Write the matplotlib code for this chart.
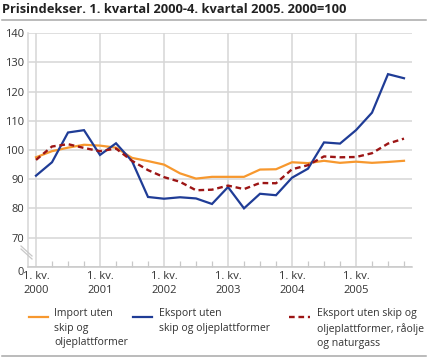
# -*- coding: utf-8 -*-
"""
Prisindekser, 1. kvartal 2000 - 4. kvartal 2005 (2000=100).
"""
import matplotlib
matplotlib.use('Agg')
import matplotlib.pyplot as plt
from matplotlib.lines import Line2D

plt.rcParams['font.family'] = ['Open Sans', 'DejaVu Sans']

AAR = ['2000', '2001', '2002', '2003', '2004', '2005']
KVARTAL = list(range(24))  # 1. kv. 2000 .. 4. kv. 2005

IMPORT = [97.5, 99.6, 100.8, 101.8, 101.5, 100.8, 97.3, 96.2, 95.0, 92.0,
          90.2, 90.8, 90.8, 90.8, 93.3, 93.4, 95.8, 95.5, 96.3, 95.6,
          96.0, 95.6, 95.9, 96.3]
EKSPORT = [91.2, 95.8, 106.0, 106.8, 98.3, 102.3, 96.2, 83.9, 83.3, 83.8,
           83.4, 81.5, 87.3, 80.0, 85.0, 84.5, 90.5, 93.6, 102.6, 102.2,
           106.8, 112.8, 126.0, 124.6]
EKSPORT_U_OLJE = [96.6, 101.2, 102.0, 100.7, 99.6, 100.5, 96.3, 93.1, 90.7,
                  89.1, 86.2, 86.4, 87.8, 86.6, 88.7, 88.6, 93.4, 94.8,
                  97.8, 97.5, 97.6, 98.9, 102.2, 103.9]

ETIKETTER = ['Import uten\nskip og\noljeplattformer',
             'Eksport uten\nskip og oljeplattformer',
             'Eksport uten skip og\noljeplattformer, råolje\nog naturgass']

ORANSJE = '#f7982e'
BLAA = '#1f3c96'
ROED = '#9c1515'
GRID = '#d6d6d6'

fig = plt.figure(figsize=(4.31, 3.57), dpi=100)
ax = fig.add_axes([28 / 431, 1 - 266.7 / 357, (412 - 28) / 431, (266.7 - 33.3) / 357])

ax.plot(KVARTAL, IMPORT, color=ORANSJE, lw=1.6, solid_joinstyle='round')
ax.plot(KVARTAL, EKSPORT, color=BLAA, lw=1.6, solid_joinstyle='miter')
ax.plot(KVARTAL, EKSPORT_U_OLJE, color=ROED, lw=1.7, dashes=(2.4, 1.6))

# y-akse med brudd: nederste linje vises som 0
ax.set_ylim(60, 140)
ax.set_yticks(range(60, 141, 10))
ax.set_yticklabels(['0'] + [str(v) for v in range(70, 141, 10)])
ax.set_xlim(-0.5, 23.5)
ax.set_xticks(range(0, 24, 4))
ax.set_xticklabels(['1. kv.\n' + a for a in AAR], linespacing=1.35)
ax.set_xticks(KVARTAL, minor=True)

ax.grid(True, color=GRID, lw=1.1)
ax.set_axisbelow(True)
for s in ['top', 'right']:
    ax.spines[s].set_visible(False)
ax.spines['left'].set_color(GRID)
ax.spines['bottom'].set_color('#c8c8c8')
ax.spines['left'].set_linewidth(1.1)
ax.spines['bottom'].set_linewidth(1.1)

ax.tick_params(axis='y', length=0, pad=3, labelsize=8, labelcolor='#333333')
ax.tick_params(axis='x', which='major', length=0, pad=3, labelsize=8,
               labelcolor='#333333')
ax.tick_params(axis='x', which='minor', direction='in', length=4,
               color='#c8c8c8', width=0.9)
for lab in ax.get_yticklabels()[:1]:
    lab.set_va('top')

# bruddmerke
for dy in (0, 3):
    fig.add_artist(Line2D([21 / 431, 32 / 431],
                          [1 - (246 + dy) / 357, 1 - (256 + dy) / 357],
                          color='#c8c8c8', lw=0.9))

# tittel og linjer
fig.text(2 / 431, 1 - 13 / 357, 'Prisindekser. 1. kvartal 2000-4. kvartal 2005. 2000=100',
         fontsize=9.3, fontweight='bold', color='#222222', va='baseline', ha='left')
fig.add_artist(Line2D([2 / 431, 426 / 431], [1 - 20 / 357] * 2, color='#a8a8a8', lw=1.1))
fig.add_artist(Line2D([2 / 431, 426 / 431], [1 - 355.5 / 357] * 2, color='#a8a8a8', lw=1.1))

# forklaring
for (x0, x1, xt), farge, tekst in zip([(29, 48, 54), (133, 152, 159), (289, 310, 317)],
                                      [ORANSJE, BLAA, ROED], ETIKETTER):
    if farge == ROED:
        fig.add_artist(Line2D([x0 / 431, x1 / 431], [1 - 316.5 / 357] * 2,
                              color=farge, lw=1.7, dashes=(2.4, 1.6)))
    else:
        fig.add_artist(Line2D([x0 / 431, x1 / 431], [1 - 316.5 / 357] * 2,
                              color=farge, lw=1.6))
    fig.text(xt / 431, 1 - 308 / 357, tekst, fontsize=7.6, color='#333333',
             va='top', ha='left', linespacing=1.45)

fig.savefig('out.png', dpi=100)
